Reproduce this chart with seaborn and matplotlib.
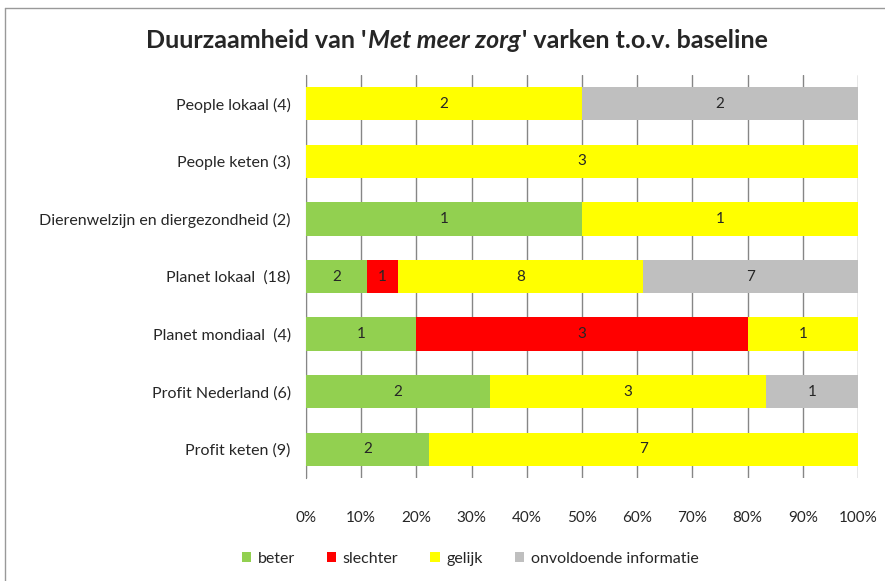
import numpy as np
import pandas as pd
import matplotlib
matplotlib.use("Agg")
import matplotlib.pyplot as plt
import seaborn as sns
from matplotlib.patches import Patch
from matplotlib.lines import Line2D

categories = ["People lokaal (4)", "People keten (3)", "Dierenwelzijn en diergezondheid (2)",
              "Planet lokaal  (18)", "Planet mondiaal  (4)", "Profit Nederland (6)", "Profit keten (9)"]
beter = [0, 0, 1, 2, 1, 2, 2]
slechter = [0, 0, 0, 1, 3, 0, 0]
gelijk = [2, 3, 1, 8, 1, 3, 7]
onvoldoende = [2, 0, 0, 7, 0, 1, 0]
series = ["beter", "slechter", "gelijk", "onvoldoende informatie"]
colors = ["#92D050", "#FF0000", "#FFFF00", "#BFBFBF"]

sns.set_style("white")
plt.rcParams["font.family"] = ["Lato", "DejaVu Sans"]

counts = pd.DataFrame({"beter": beter, "slechter": slechter, "gelijk": gelijk,
                       "onvoldoende informatie": onvoldoende}, index=categories)
pct = counts.div(counts.sum(axis=1), axis=0) * 100
cum = pct.cumsum(axis=1)

fig = plt.figure(figsize=(8.85, 5.81), dpi=100)
ax = fig.add_axes([306 / 885, 1 - 478 / 581, (858 - 306) / 885, (478 - 75) / 581])

# draw cumulative layers from the outermost inwards
for s, c in reversed(list(zip(series, colors))):
    df = pd.DataFrame({"cat": categories, "val": cum[s].values})
    sns.barplot(data=df, x="val", y="cat", color=c, width=0.58, orient="h",
                ax=ax, linewidth=0, saturation=1, zorder=3)

for i, cat in enumerate(categories):
    left = 0
    for s in series:
        w = pct.loc[cat, s]
        n = counts.loc[cat, s]
        if n > 0:
            ax.text(left + w / 2, i, str(n), ha="center", va="center", fontsize=11, zorder=4)
        left += w

ax.set_xlim(0, 100)
ax.set_ylim(6.5, -0.5)
ax.set_xticks(np.arange(0, 101, 10))
ax.set_xticklabels([f"{v}%" for v in range(0, 101, 10)], fontsize=11)
ax.tick_params(axis="x", length=12, color="#808080", pad=12, direction="out")
ax.tick_params(axis="y", length=0, labelsize=11.5, pad=11)
ax.set_xlabel("")
ax.set_ylabel("")
ax.grid(axis="x", color="#868686", linewidth=1, zorder=0)
ax.set_axisbelow(True)
for side in ["top", "right", "bottom"]:
    ax.spines[side].set_visible(False)
ax.spines["left"].set_color("#868686")

# title with italic part
renderer = fig.canvas.get_renderer()
parts = [("Duurzaamheid van '", "normal"), ("Met meer zorg", "italic"),
         ("' varken t.o.v. baseline", "normal")]
texts = []
for t, st in parts:
    texts.append(fig.text(0, 1 - 40 / 581, t, fontsize=18, fontweight="bold", style=st,
                          va="center", ha="left"))
widths = [tx.get_window_extent(renderer).width for tx in texts]
x = (456 - sum(widths) / 2)
for tx, w in zip(texts, widths):
    tx.set_x(x / 885)
    x += w + 1

handles = [Patch(facecolor=c, edgecolor="none") for c in colors]
fig.legend(handles, series, loc="center", bbox_to_anchor=(470 / 885, 1 - 559 / 581),
           ncol=4, frameon=False, fontsize=11.5, handlelength=0.6, handleheight=0.6,
           handletextpad=0.4, columnspacing=2.0)

fig.add_artist(Line2D([5 / 885, 5 / 885], [0, 1 - 8 / 581], transform=fig.transFigure,
                      color="#999999", linewidth=1))
fig.add_artist(Line2D([5 / 885, 1], [1 - 8 / 581, 1 - 8 / 581], transform=fig.transFigure,
                      color="#999999", linewidth=1))

fig.savefig("out.png", dpi=100)
